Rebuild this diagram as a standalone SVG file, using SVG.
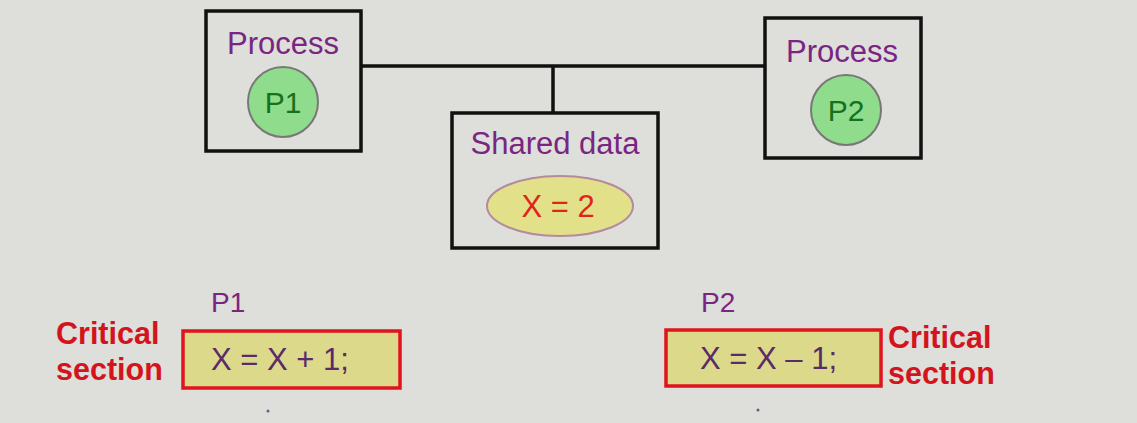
<svg xmlns="http://www.w3.org/2000/svg" width="1137" height="423" viewBox="0 0 1137 423">
<style>
.box{fill:none;stroke:#111;stroke-width:3.5}
.ttl{font-family:"Liberation Sans",Arial,sans-serif;font-size:31px;fill:#7a2582;text-anchor:middle}
.pc{fill:#8fdc8c;stroke:#777;stroke-width:2}
.pt{font-family:"Liberation Sans",Arial,sans-serif;font-size:30px;fill:#17701c;text-anchor:middle}
.conn{stroke:#111;stroke-width:3.5;fill:none}
.cs{fill:#dcd98a;stroke:#e0141c;stroke-width:3.5}
.code{font-family:"Liberation Sans",Arial,sans-serif;font-size:31px;fill:#5a2a6a}
.crit{font-family:"Liberation Sans",Arial,sans-serif;font-size:30.5px;font-weight:bold;fill:#d4141c}
.plab{font-family:"Liberation Sans",Arial,sans-serif;font-size:28px;fill:#7a2582}
.dot{fill:#6a5a8a}
</style>
<rect width="1137" height="423" fill="#dededa"/>
<g id="connectors">
<path class="conn" d="M361 66 H765 M553 66 V113"/>
</g>
<g id="process1">
<rect class="box" x="206" y="11" width="155" height="140"/>
<text class="ttl" x="283" y="54">Process</text>
<circle class="pc" cx="283" cy="102" r="35"/>
<text class="pt" x="283" y="113">P1</text>
</g>
<g id="process2">
<rect class="box" x="765" y="18" width="156" height="140"/>
<text class="ttl" x="842" y="62">Process</text>
<circle class="pc" cx="846" cy="110" r="35"/>
<text class="pt" x="846" y="121">P2</text>
</g>
<g id="shared">
<rect class="box" x="452" y="113" width="206" height="135"/>
<text class="ttl" x="555" y="154">Shared data</text>
<ellipse cx="560" cy="206" rx="73" ry="30" fill="#e3e08a" stroke="#b48aa0" stroke-width="2"/>
<text x="558" y="217" font-family="Liberation Sans, Arial, sans-serif" font-size="31" fill="#e0241c" text-anchor="middle">X = 2</text>
</g>
<g id="cs1">
<text class="plab" x="211" y="312">P1</text>
<text class="crit" x="56" y="344">Critical</text>
<text class="crit" x="56" y="380">section</text>
<rect class="cs" x="183" y="331" width="217" height="57"/>
<text class="code" x="211" y="370">X = X + 1;</text>
<circle class="dot" cx="268" cy="411" r="1.5"/>
</g>
<g id="cs2">
<text class="plab" x="701" y="312">P2</text>
<rect class="cs" x="666" y="330" width="215" height="56"/>
<text class="code" x="700" y="369">X = X – 1;</text>
<text class="crit" x="888" y="348">Critical</text>
<text class="crit" x="888" y="384">section</text>
<circle class="dot" cx="758" cy="410" r="1.5"/>
</g>
</svg>
